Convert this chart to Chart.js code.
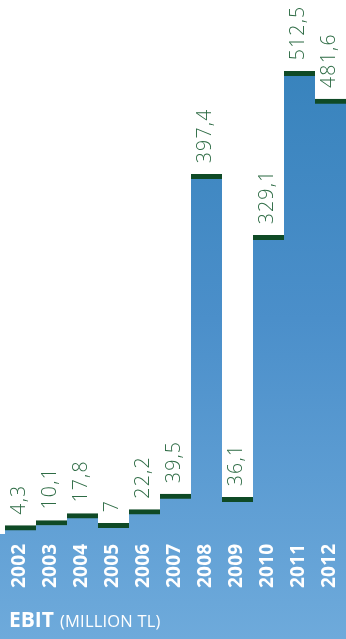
<!DOCTYPE html>
<html>
<head>
<meta charset="utf-8">
<script src="https://cdn.jsdelivr.net/npm/chart.js@4/dist/chart.umd.min.js"></script>
<style>
  html, body { margin: 0; padding: 0; background: #fff; overflow: hidden; }
  #wrap { width: 346px; height: 639px; position: relative; }
</style>
</head>
<body>
<div id="wrap"><canvas id="c" width="346" height="639"></canvas></div>
<script>
// EBIT per year, million TL
const years = ['2002','2003','2004','2005','2006','2007','2008','2009','2010','2011','2012'];
const ebit = [4.3, 10.1, 17.8, 7, 22.2, 39.5, 397.4, 36.1, 329.1, 512.5, 481.6];
const titleBold = 'EBIT';
const titleRest = '(MILLION TL)';

const Y_MIN = -122.5;
const Y_MAX = 592.3;

function blueGradient(ctx, area) {
  const g = ctx.createLinearGradient(0, area.top, 0, area.bottom);
  g.addColorStop(0, '#3380b9');
  g.addColorStop(0.5, '#4b8fca');
  g.addColorStop(1, '#6eaadb');
  return g;
}

const fmt = v => String(v).replace('.', ',');

// blue band under the bars, full width
const bandPlugin = {
  id: 'band',
  beforeDatasetsDraw(chart) {
    const { ctx, chartArea } = chart;
    const y0 = chart.scales.y.getPixelForValue(0) + 4.5;
    ctx.save();
    ctx.fillStyle = blueGradient(ctx, chartArea);
    ctx.fillRect(0, y0, chart.width, chart.height - y0);
    ctx.restore();
  }
};

// value labels above caps, year labels in the band, and the title
const labelPlugin = {
  id: 'labels',
  afterDatasetsDraw(chart) {
    const { ctx } = chart;
    const meta = chart.getDatasetMeta(0);
    ctx.save();
    meta.data.forEach((bar, i) => {
      // value
      ctx.save();
      ctx.translate(bar.x + 4, bar.y - 11);
      ctx.rotate(-Math.PI / 2);
      ctx.font = '300 19.5px "Open Sans"';
      ctx.letterSpacing = '1.2px';
      ctx.fillStyle = '#2d6b44';
      ctx.textAlign = 'left';
      ctx.textBaseline = 'alphabetic';
      ctx.fillText(fmt(ebit[i]), 0, 0);
      ctx.restore();
      // year
      ctx.save();
      ctx.translate(bar.x + 4.5, 588);
      ctx.rotate(-Math.PI / 2);
      ctx.font = 'bold 19px "Open Sans"';
      ctx.letterSpacing = '0.2px';
      ctx.fillStyle = '#ffffff';
      ctx.textAlign = 'left';
      ctx.textBaseline = 'alphabetic';
      ctx.fillText(years[i], 0, 0);
      ctx.restore();
    });
    ctx.fillStyle = '#ffffff';
    ctx.textBaseline = 'alphabetic';
    ctx.textAlign = 'left';
    ctx.font = 'bold 21px "Open Sans"';
    ctx.fillText(titleBold, 9, 627);
    const w = ctx.measureText(titleBold).width;
    ctx.font = '16.5px "Open Sans"';
    ctx.letterSpacing = '0.2px';
    ctx.fillText(titleRest, 9 + w + 6, 627);
    ctx.restore();
  }
};

new Chart(document.getElementById('c'), {
  type: 'bar',
  data: {
    labels: years,
    datasets: [{
      data: ebit,
      base: Y_MIN,
      backgroundColor: (c) => {
        const area = c.chart.chartArea;
        if (!area) return '#4a8fca';
        return blueGradient(c.chart.ctx, area);
      },
      borderColor: '#0f4a26',
      borderWidth: { top: 5, left: 0, right: 0, bottom: 0 },
      borderSkipped: false,
      barPercentage: 1,
      categoryPercentage: 1
    }]
  },
  options: {
    responsive: false,
    animation: false,
    events: [],
    layout: { padding: { left: 5, right: 0, top: 0, bottom: 0 } },
    plugins: { legend: { display: false }, tooltip: { enabled: false } },
    scales: {
      x: { display: false, grid: { display: false } },
      y: { display: false, min: Y_MIN, max: Y_MAX, grid: { display: false } }
    }
  },
  plugins: [bandPlugin, labelPlugin]
});
</script>
</body>
</html>
